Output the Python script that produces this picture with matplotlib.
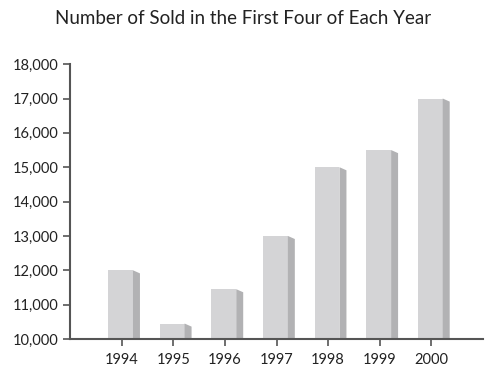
import matplotlib.pyplot as plt
from matplotlib.patches import Polygon

years = ['1994', '1995', '1996', '1997', '1998', '1999', '2000']
sold = [12000, 10450, 11450, 13000, 15000, 15500, 17000]
y_ticks = [10000, 11000, 12000, 13000, 14000, 15000, 16000, 17000, 18000]

plt.rcParams['font.family'] = ['Lato', 'DejaVu Sans']

fig = plt.figure(figsize=(5, 3.77), dpi=100)
ax = fig.add_axes([0.14, 0.1008, 0.826, 0.729])

front = '#d4d4d6'
side = '#b2b2b4'
axis_col = '#555555'

x = list(range(len(years)))
ax.bar([i - 0.02 for i in x], sold, width=0.48, bottom=0, color=front,
       edgecolor='none', zorder=2)

# side face of each bar: slanted parallelogram for the 3D look
depth_x = 0.135
drop_y = 90
for i, v in zip(x, sold):
    x0 = i + 0.22
    pts = [(x0, v), (x0 + depth_x, v - drop_y), (x0 + depth_x, 10000), (x0, 10000)]
    ax.add_patch(Polygon(pts, closed=True, facecolor=side, edgecolor='none', zorder=2))

ax.set_xlim(-1, 7)
ax.set_ylim(10000, 18000)
ax.set_xticks(x)
ax.set_xticklabels(years)
ax.set_yticks(y_ticks)
ax.set_yticklabels([f'{t:,}' for t in y_ticks])

for s in ['top', 'right']:
    ax.spines[s].set_visible(False)
for s in ['left', 'bottom']:
    ax.spines[s].set_color(axis_col)
    ax.spines[s].set_linewidth(1.5)
ax.tick_params(axis='both', colors=axis_col, width=1.2, length=5,
               labelcolor='#222222', labelsize=10.5)
ax.tick_params(axis='x', pad=5)

fig.text(0.487, 0.952, 'Number of Sold in the First Four of Each Year',
         ha='center', va='center', fontsize=13.5, color='#222222')

fig.savefig('out.png', dpi=100)
